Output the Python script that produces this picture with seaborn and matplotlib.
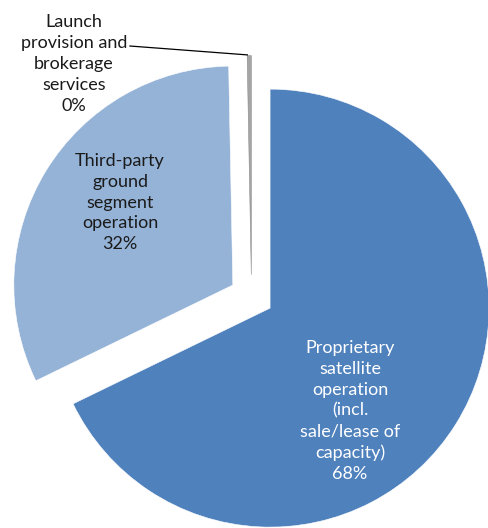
import matplotlib
matplotlib.use("Agg")
import matplotlib.pyplot as plt
import seaborn as sns

# Revenue split by activity
categories = [
    "Proprietary\nsatellite\noperation\n(incl.\nsale/lease of\ncapacity)",
    "Third-party\nground\nsegment\noperation",
    "Launch\nprovision and\nbrokerage\nservices",
]
shares = [67.8, 31.9, 0.3]
slice_colors = ["#4F81BD", "#95B3D7", "#A5A5A5"]
text_colors = ["white", "#1a1a1a", "#1a1a1a"]

sns.set_theme(style="white")
plt.rcParams["font.family"] = ["Lato", "DejaVu Sans"]

fig = plt.figure(figsize=(4.89, 5.28), dpi=100)
ax = fig.add_axes([0, 0, 1, 1])

wedges, _ = ax.pie(
    shares,
    colors=slice_colors,
    startangle=90,
    counterclock=False,
    explode=[0.1] * len(shares),
    radius=1.0,
    wedgeprops=dict(linewidth=0.4, edgecolor="white"),
)
wedges[2].set_edgecolor("#8a8a8a")

def label_text(name, value):
    return f"{name}\n{round(value):.0f}%"

# Label positions inside / outside the wedges
label_pos = [(0.450, -0.523), (-0.600, 0.429), (-0.810, 1.062)]
for name, value, (x, y), c in zip(categories, shares, label_pos, text_colors):
    ax.text(x, y, label_text(name, value), ha="center", va="center",
            fontsize=13, color=c, linespacing=1.37)

# Leader line for the thin slice
ax.plot([-0.558, -0.016], [1.144, 1.103], color="black", lw=0.9,
        solid_capstyle="butt")

ax.set_xlim(-251.5 / 219, 237.5 / 219)
ax.set_ylim(-231.5 / 219, 296.5 / 219)
ax.set_aspect("equal")
ax.axis("off")

fig.savefig("out.png", dpi=100, facecolor="white")
